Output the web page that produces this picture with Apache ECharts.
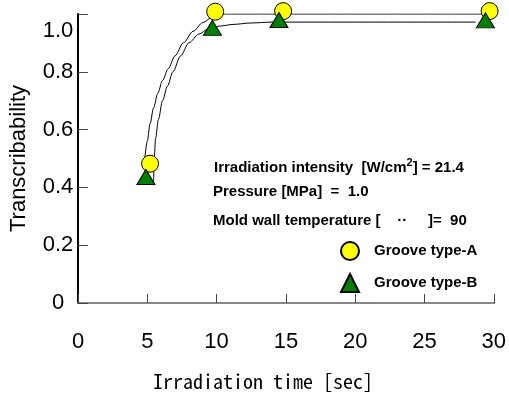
<!DOCTYPE html>
<html>
<head>
<meta charset="utf-8">
<script src="https://cdn.jsdelivr.net/npm/echarts@6/dist/echarts.min.js"></script>
<style>
  html, body { margin: 0; padding: 0; background: #fff; }
  #chart { width: 509px; height: 396px; }
</style>
</head>
<body>
<div id="chart"></div>
<script>
// measured points (irradiation time [sec], transcribability)
const timeA = [5.2, 9.9, 14.8, 29.7];
const grooveA = [0.482, 1.008, 1.01, 1.01];
const timeB = [4.9, 9.7, 14.5, 29.4];
const grooveB = [0.436, 0.952, 0.979, 0.978];

// fitted curves
const fitTimeA = [4.82, 5.0, 5.2, 5.45, 5.75, 6.1, 6.5, 7.0, 7.6, 8.3, 9.0, 9.7, 10.5, 30];
const fitA = [0.5, 0.56, 0.62, 0.675, 0.725, 0.77, 0.81, 0.855, 0.9, 0.94, 0.97, 0.99, 1.0, 1.0];
const fitTimeB = [5.45, 5.5, 5.6, 5.8, 6.1, 6.45, 6.85, 7.4, 8.0, 8.7, 9.4, 10.2, 11.2, 12.5, 14, 28.7];
const fitB = [0.41, 0.5, 0.57, 0.635, 0.7, 0.75, 0.8, 0.855, 0.9, 0.93, 0.948, 0.958, 0.964, 0.969, 0.972, 0.972];

const xTicks = [0, 5, 10, 15, 20, 25, 30];
const yTicks = [0, 0.2, 0.4, 0.6, 0.8, 1.0];

const pair = (xs, ys) => xs.map((x, i) => [x, ys[i]]);

const chart = echarts.init(document.getElementById('chart'));

const fontMain = '"Liberation Sans", Arial, sans-serif';

chart.setOption({
  animation: false,
  grid: { left: 77, right: 9, top: 14, bottom: 92 },
  xAxis: [
    {
      type: 'value',
      min: xTicks[0],
      max: xTicks[xTicks.length - 1],
      interval: 5,
      name: 'Irradiation time [sec]',
      nameLocation: 'middle',
      nameGap: 68,
      nameTextStyle: {
        fontFamily: '"Noto Sans Mono CJK JP", "Liberation Mono", monospace',
        fontSize: 20,
        color: '#000',
        padding: [0, 46, 0, 0],
      },
      axisLine: { lineStyle: { color: '#000', width: 2 } },
      axisTick: { inside: true, length: 9, lineStyle: { color: '#444' } },
      axisLabel: { margin: 28, fontSize: 22, color: '#000', fontFamily: fontMain },
      splitLine: { show: false },
    },
    {
      type: 'value',
      position: 'top',
      min: 0,
      max: 30,
      axisLine: { lineStyle: { color: '#888', width: 2 } },
      axisTick: { show: false },
      axisLabel: { show: false },
      splitLine: { show: false },
    },
  ],
  yAxis: [
    {
      type: 'value',
      min: yTicks[0],
      max: yTicks[yTicks.length - 1],
      interval: 0.2,
      name: 'Transcribability',
      nameLocation: 'middle',
      nameGap: 48,
      nameTextStyle: { fontFamily: fontMain, fontSize: 22, color: '#000' },
      axisLine: { show: true, lineStyle: { color: '#000', width: 2 } },
      axisTick: { inside: true, length: 10, lineStyle: { color: '#444' } },
      axisLabel: {
        margin: 20,
        align: 'center',
        fontSize: 22,
        color: '#000',
        fontFamily: fontMain,
        formatter: (v) => (v === 0 ? '0' : v === 1 ? '{top|1.0}' : v.toFixed(1)),
        rich: {
          top: { fontSize: 22, color: '#000', fontFamily: fontMain, padding: [34, 0, 0, 0] },
        },
      },
      splitLine: { show: false },
    },
    {
      type: 'value',
      position: 'right',
      min: 0,
      max: 1,
      axisLine: { show: true, lineStyle: { color: '#000', width: 1 } },
      axisTick: { show: false },
      axisLabel: { show: false },
      splitLine: { show: false },
    },
  ],
  legend: {
    data: ['Groove type-A', 'Groove type-B'],
    orient: 'vertical',
    left: 340,
    top: 241,
    padding: 0,
    itemWidth: 18,
    itemHeight: 18,
    itemGap: 12,
    textStyle: {
      fontFamily: fontMain,
      fontSize: 15,
      fontWeight: 'bold',
      color: '#000',
      padding: [0, 0, 0, 10],
    },
  },
  graphic: [
    {
      type: 'text',
      left: 214,
      top: 157,
      style: {
        text: 'Irradiation intensity  [W/cm{sup|2}] = 21.4',
        font: 'bold 15px "Liberation Sans", Arial, sans-serif',
        fill: '#000',
        rich: {
          sup: { fontSize: 11, fontWeight: 'bold', fontFamily: fontMain, padding: [0, 0, 10, 0] },
        },
      },
    },
    {
      type: 'text',
      left: 213,
      top: 184,
      style: {
        text: 'Pressure [MPa]  =  1.0',
        font: 'bold 15px "Liberation Sans", Arial, sans-serif',
        fill: '#000',
      },
    },
    {
      type: 'text',
      left: 213,
      top: 213,
      style: {
        text: 'Mold wall temperature [    ··     ]=  90',
        font: 'bold 15px "Liberation Sans", Arial, sans-serif',
        fill: '#000',
      },
    },
  ],
  series: [
    {
      name: 'fit A',
      type: 'line',
      data: pair(fitTimeA, fitA),
      smooth: 0.3,
      smoothMonotone: 'x',
      symbol: 'none',
      lineStyle: { color: '#000', width: 1 },
      z: 3,
    },
    {
      name: 'fit B',
      type: 'line',
      data: pair(fitTimeB, fitB),
      smooth: 0.3,
      smoothMonotone: 'x',
      symbol: 'none',
      lineStyle: { color: '#000', width: 1 },
      z: 3,
    },
    {
      name: 'Groove type-A',
      type: 'scatter',
      data: pair(timeA, grooveA),
      clip: false,
      symbol: 'circle',
      symbolSize: 17,
      itemStyle: { color: '#ffff00', borderColor: '#000', borderWidth: 1, opacity: 1 },
      z: 5,
    },
    {
      name: 'Groove type-B',
      type: 'scatter',
      data: pair(timeB, grooveB),
      clip: false,
      symbol: 'triangle',
      symbolSize: [18, 15],
      itemStyle: { color: '#008000', borderColor: '#000', borderWidth: 1, opacity: 1 },
      z: 6,
    },
  ],
});
</script>
</body>
</html>
